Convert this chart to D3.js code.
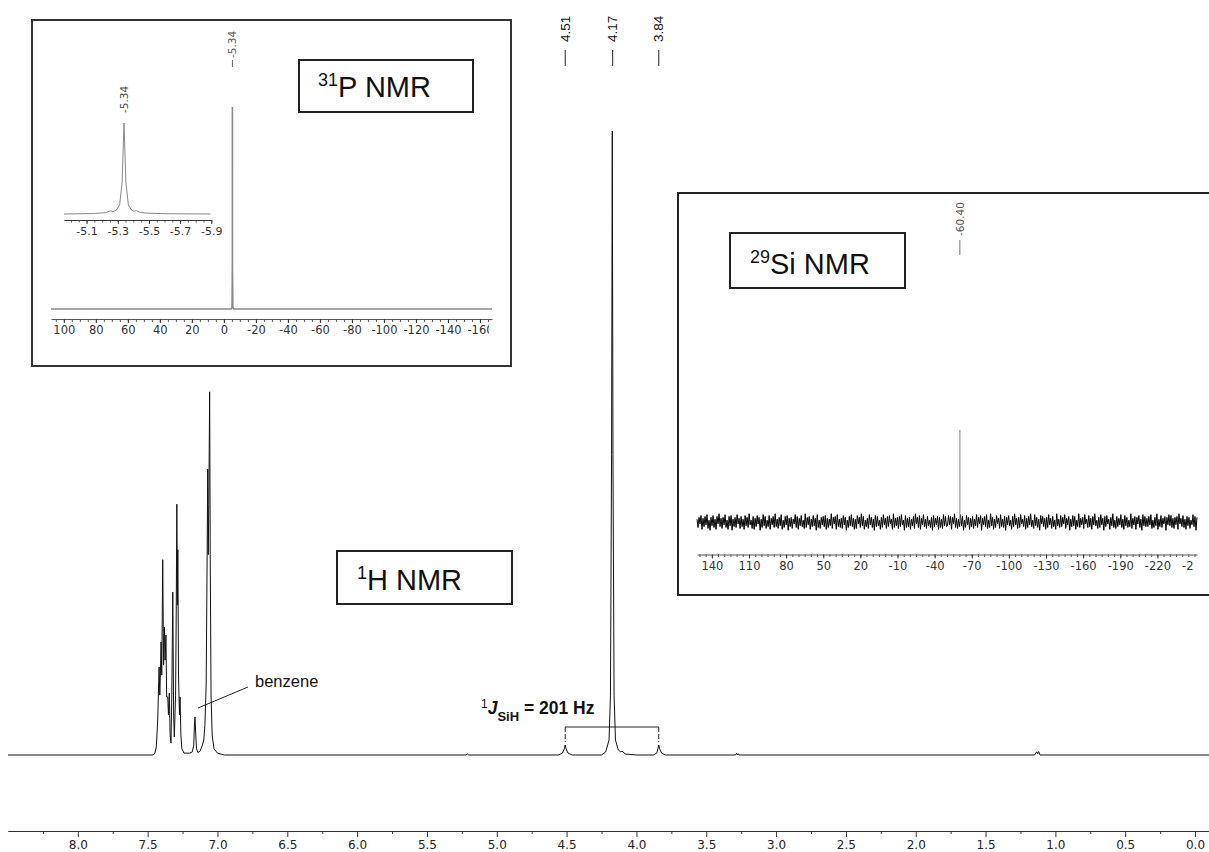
<!DOCTYPE html>
<html><head><meta charset="utf-8">
<script src="https://cdn.jsdelivr.net/npm/d3@7"></script>
<style>body{margin:0;background:#fff}svg{display:block}</style>
</head><body>
<svg id="c" width="1209" height="852"></svg>
<script>
// ---------------- DATA ----------------
// 1H spectrum: [ppm, relative intensity (tallest = 100)]
const hSpectrum = [
[8.50,0],[7.460,0],[7.448,0.3],[7.438,1.3],[7.428,5.6],[7.418,14.1],[7.413,9.6],[7.408,13.6],[7.404,18.1],[7.399,12.8],
[7.392,31.3],[7.386,14.4],[7.380,20.5],[7.375,15.2],[7.369,19.2],[7.364,9.3],[7.356,9.3],[7.351,6.4],[7.345,9.9],[7.339,3.2],
[7.333,1.9],[7.327,9.6],[7.320,26.1],[7.314,6.4],[7.309,2.9],[7.300,9.6],[7.295,24.0],[7.291,40.2],[7.287,24.0],[7.284,32.9],
[7.279,12.8],[7.272,6.4],[7.268,9.3],[7.262,3.2],[7.255,1.0],[7.240,0.3],[7.200,0.3],[7.180,0.5],[7.170,1.6],[7.165,4.8],
[7.161,6.1],[7.157,4.0],[7.150,1.0],[7.140,0.4],[7.125,0.6],[7.108,1.6],[7.098,2.4],[7.090,4.8],[7.081,11.2],[7.074,32.1],
[7.070,45.8],[7.066,32.1],[7.062,40.1],[7.056,58.2],[7.052,32.1],[7.046,9.6],[7.038,3.2],[7.025,1.0],[7.000,0.3],[6.950,0],
[5.220,0],[5.210,0.16],[5.200,0],
[4.560,0],[4.530,0.3],[4.516,1.0],[4.510,1.6],[4.504,1.0],[4.490,0.3],[4.460,0],
[4.250,0],[4.220,0.5],[4.196,2.4],[4.186,9.6],[4.178,48.1],[4.173,100],[4.168,48.1],[4.160,9.6],[4.150,2.4],[4.130,0.8],
[4.112,0.5],[4.104,0.6],[4.096,0.5],[4.080,0.16],[4.000,0],
[3.880,0],[3.855,0.3],[3.846,1.0],[3.840,1.6],[3.834,1.0],[3.820,0.3],[3.790,0],
[3.290,0],[3.282,0.3],[3.276,0],[3.270,0.2],[3.264,0],
[1.150,0],[1.134,0.5],[1.127,0.2],[1.120,0.56],[1.110,0],
[-0.10,0]
];
const hPeakLabels = [4.51, 4.17, 3.84];
const hTicks = [8.0,7.5,7.0,6.5,6.0,5.5,5.0,4.5,4.0,3.5,3.0,2.5,2.0,1.5,1.0,0.5,0.0];
const hMinorTicks = [8.25,7.75,7.25,6.75,6.25,5.75,5.25,4.75,4.25,3.75,3.25,2.75,2.25,1.75,1.25,0.75,0.25];
const jCoupling = {from: 4.51, to: 3.84, text: "201 Hz"};

// 31P spectrum
const pSpectrum = [[108,0],[-4.6,0],[-5.1,1],[-5.3,20],[-5.34,100],[-5.38,20],[-5.6,1],[-6.1,0],[-167.5,0]];
const pPeakLabel = -5.34;
const pTicks = [100,80,60,40,20,0,-20,-40,-60,-80,-100,-120,-140,-160];
// 31P expansion
const pZoomSpectrum = [[-4.955,0],[-5.15,0.5],[-5.22,1.5],[-5.255,3.5],[-5.268,2.5],[-5.29,4],[-5.312,10],[-5.328,35],[-5.34,100],
  [-5.352,35],[-5.368,10],[-5.39,4],[-5.405,3],[-5.42,3.8],[-5.44,2],[-5.48,1],[-5.6,0.3],[-5.895,0]];
const pZoomTicks = [-5.1,-5.3,-5.5,-5.7,-5.9];

// 29Si spectrum
const siPeak = [-60.40, 100];
const siTicks = [140,110,80,50,20,-10,-40,-70,-100,-130,-160,-190,-220,-250];
const siNoise = [
3,-6,5,-2,7,-8,4,-5,6,-3,8,-7,2,-9,5,-4,7,-6,3,-8,6,-2,9,-5,4,
-7,5,-3,8,-6,2,-8,6,-4,7,-9,3,-5,5,-6,8,-2,4,-7,6,-5,3,-8,7,-4,
5,-6,9,-3,2,-7,6,-8,4,-5,7,-2,5,-9,3,-6,8,-4,6,-7,2,-5,7,-8,4,
-3,6,-6,9,-5,3,-7,5,-4,8,-8,2,-6,6,-3,7,-9,4,-5,5,-7,3,-2,8,-6,
6,-8,4,-4,7,-5,2,-7,9,-6,5,-3,6,-8,3,-5,7,-4,4,-9,8,-6,2,-7,5,
-3,6,-5,7,-8,4,-6,3,-4,9,-7,5,-2,6,-8,8,-5,3,-6,4,-7,7,-3,5,-9,
2,-6,6,-4,8,-5,4,-8,3,-7,7,-2,5,-6,9,-4,6,-8,2,-5,4,-7,8,-3,5,
-6,3,-9,7,-5,6,-4,2,-8,5,-6,8,-3,4,-7,6,-5,7,-2,3,-8,9,-6,4,-4,
5,-7,6,-5,8,-3,2,-9,7,-6,4,-5,5,-8,3,-4,6,-7,9,-2,5,-6,7,-8,4,
-3,8,-5,3,-7,6,-4,2,-6,5,-9,7,-5,4,-3,6,-8,5,-6,3,-7,8,-4,6,-5,
-4,7,-3,6,-8,5,-2,9,-6,4,-7,3,-5,8,-4,6,-9,2,-6,7,-3,5,-8,4,-5,
6,-7,3,-4,8,-6,5,-2,7,-9,4,-3,6,-5,8,-7,2,-6,9,-4,5,-8,3,-6,7,
-2,4,-7,8,-5,3,-6,6,-9,5,-3,7,-4,2,-8,6,-5,9,-3,4,-7,5,-6,8,-2,
3,-5,7,-8,4,-6,6,-3,9,-5,2,-7,8,-4,5,-6,3,-9,7,-2,6,-5,4,-8,5,
-6,8,-3,4,-7,6,-5,2,-8,9,-4,3,-6,7,-5,5,-2,8,-7,4,-3,6,-9,3,-5,
7,-4,6,-8,2,-5,9,-6,4,-3,5,-7,8,-2,3,-6,7,-5,4,-8,6,-3,9,-4,2,
-7,5,-6,8,-3,4,-9,6,-5,7,-2,3,-8,5,-4,9,-6,2,-7,6,-5,4,-3,8,-6,
3,-8,7,-4,5,-6,2,-5,9,-7,4,-3,6,-8,5,-2,7,-6,3,-9,8,-4,6,-5,4,
-5,6,-3,8,-7,2,-6,5,-4,9,-8,3,-5,7,-6,4,-2,6,-9,5,-3,8,-4,7,-6,
4,-7,5,-3,6,-8,9,-2,4,-5,7,-6,3,-8,6,-4,5,-7,2,-3,8,-5,6,-9,5
];

// ---------------- DRAW ----------------
const svg = d3.select("#c");
const defs = svg.append("defs");
defs.append("clipPath").attr("id","clipP").append("rect").attr("x",30).attr("y",0).attr("width",459).attr("height",400);
defs.append("clipPath").attr("id","clipSi").append("rect").attr("x",680).attr("y",0).attr("width",514).attr("height",700);

function styleAxis(g, color, size){
  g.select(".domain").attr("stroke", color).attr("stroke-width",1);
  g.selectAll(".tick line").attr("stroke", color);
  g.selectAll(".tick text").attr("fill", color).attr("font-family","DejaVu Sans, Verdana, sans-serif").attr("font-size", size);
}
const fmtMinus = d => String(d);

// ----- Main 1H -----
const x = d3.scaleLinear().domain([8.5, -0.1]).range([8, 1209]);
const y = d3.scaleLinear().domain([0, 100]).range([755, 131]);
const line = d3.line().x(d => x(d[0])).y(d => y(d[1]));
svg.append("path").datum(hSpectrum).attr("d", line).attr("fill","none").attr("stroke","#111").attr("stroke-width",1);

const axY = 831;
const gMinor = svg.append("g").attr("transform",`translate(0,${axY})`)
  .call(d3.axisBottom(x).tickValues(hMinorTicks).tickSize(3).tickSizeOuter(0).tickFormat(""));
styleAxis(gMinor, "#333", 12);
const gMain = svg.append("g").attr("transform",`translate(0,${axY})`)
  .call(d3.axisBottom(x).tickValues(hTicks).tickSize(6).tickSizeOuter(0).tickFormat(d3.format(".1f")));
styleAxis(gMain, "#333", 12);
gMain.selectAll(".tick text").attr("fill","#222");

// peak labels on top
hPeakLabels.forEach(p => {
  svg.append("line").attr("x1", x(p)).attr("x2", x(p)).attr("y1", 50).attr("y2", 66).attr("stroke","#222").attr("stroke-width",1);
  svg.append("text").attr("transform",`translate(${x(p)+4.5},42) rotate(-90)`)
    .attr("font-family","Liberation Sans, Arial, sans-serif").attr("font-size",13.5).attr("fill","#111")
    .text(p.toFixed(2));
});

// J coupling bracket
const jy = 727;
svg.append("line").attr("x1", x(jCoupling.from)).attr("x2", x(jCoupling.to)).attr("y1", jy).attr("y2", jy).attr("stroke","#222");
[jCoupling.from, jCoupling.to].forEach(p => {
  svg.append("line").attr("x1", x(p)).attr("x2", x(p)).attr("y1", jy).attr("y2", 742).attr("stroke","#222").attr("stroke-dasharray","5,2");
});
const jt = svg.append("text").attr("x", 481).attr("y", 714)
  .attr("font-family","Liberation Sans, Arial, sans-serif").attr("font-weight","bold").attr("font-size",17.5).attr("fill","#111");
jt.append("tspan").attr("font-size",12).attr("dy",-6).attr("font-weight","normal").text("1");
jt.append("tspan").attr("font-style","italic").attr("dy",6).text("J");
jt.append("tspan").attr("font-size",13).attr("dy",7).text("SiH");
jt.append("tspan").attr("dy",-7).text(" = " + jCoupling.text);

// benzene annotation
svg.append("line").attr("x1",198).attr("y1",708).attr("x2",248).attr("y2",687).attr("stroke","#222");
svg.append("text").attr("x",255).attr("y",687).attr("font-family","Liberation Sans, Arial, sans-serif")
  .attr("font-size",16.5).attr("fill","#111").text("benzene");

// label boxes
function labelBox(bx, by, bw, bh, tx, ty, sup, main){
  svg.append("rect").attr("x",bx).attr("y",by).attr("width",bw).attr("height",bh)
    .attr("fill","#fff").attr("stroke","#222").attr("stroke-width",2);
  const t = svg.append("text").attr("x",tx).attr("y",ty).attr("font-family","Liberation Sans, Arial, sans-serif")
    .attr("font-size",29).attr("fill","#111");
  t.append("tspan").attr("font-size",18).attr("dy",-11).text(sup);
  t.append("tspan").attr("dy",11).text(main);
}
labelBox(337, 551, 175, 53, 357, 590, "1", "H NMR");

// ----- 31P inset -----
svg.append("rect").attr("x",32).attr("y",20).attr("width",479).attr("height",346).attr("fill","#fff").attr("stroke","#333").attr("stroke-width",2);
const px = d3.scaleLinear().domain([108, -167.5]).range([51, 492]);
const py = d3.scaleLinear().domain([0, 100]).range([309, 107]);
svg.append("path").datum(pSpectrum).attr("d", d3.line().x(d=>px(d[0])).y(d=>py(d[1])))
  .attr("fill","none").attr("stroke","#8a8a8a").attr("stroke-width",1.6);
const gpMinor = svg.append("g").attr("transform","translate(0,319)")
  .call(d3.axisBottom(px).tickValues(d3.range(105,-170,-5)).tickSize(3).tickSizeOuter(0).tickFormat(""));
styleAxis(gpMinor, "#555", 11);
const gp = svg.append("g").attr("transform","translate(0,319)").attr("clip-path","url(#clipP)")
  .call(d3.axisBottom(px).tickValues(pTicks).tickSize(4).tickSizeOuter(0).tickFormat(fmtMinus));
styleAxis(gp, "#333", 11.5);
gp.select(".domain").remove();
svg.append("line").attr("x1",px(pPeakLabel)).attr("x2",px(pPeakLabel)).attr("y1",60).attr("y2",67).attr("stroke","#666");
svg.append("text").attr("transform",`translate(${px(pPeakLabel)+4},58) rotate(-90)`)
  .attr("font-family","DejaVu Sans, Verdana, sans-serif").attr("font-size",10.5).attr("fill","#555").text(String(pPeakLabel));

// expansion
const zx = d3.scaleLinear().domain([-4.955, -5.895]).range([64, 210.5]);
const zy = d3.scaleLinear().domain([0, 100]).range([214, 123]);
svg.append("path").datum(pZoomSpectrum).attr("d", d3.line().x(d=>zx(d[0])).y(d=>zy(d[1])))
  .attr("fill","none").attr("stroke","#888").attr("stroke-width",1);
const gzMinor = svg.append("g").attr("transform","translate(0,220)")
  .call(d3.axisBottom(zx).tickValues(d3.range(-5.0,-5.91,-0.05)).tickSize(2.5).tickSizeOuter(0).tickFormat(""));
styleAxis(gzMinor, "#666", 10);
const gz = svg.append("g").attr("transform","translate(0,220)")
  .call(d3.axisBottom(zx).tickValues(pZoomTicks).tickSize(4).tickSizeOuter(0).tickFormat(d=>d.toFixed(1)));
styleAxis(gz, "#333", 11);
svg.append("text").attr("transform",`translate(${zx(pPeakLabel)+4},113) rotate(-90)`)
  .attr("font-family","DejaVu Sans, Verdana, sans-serif").attr("font-size",10.5).attr("fill","#444").text(String(pPeakLabel));

labelBox(299, 60, 174, 52, 318, 97, "31", "P NMR");

// ----- 29Si inset -----
svg.append("rect").attr("x",678).attr("y",193).attr("width",600).attr("height",402).attr("fill","#fff").attr("stroke","#222").attr("stroke-width",2);
const sx = d3.scaleLinear().domain([152, -252]).range([697, 1197]);
const sy = d3.scaleLinear().domain([0, 100]).range([522, 430]);
const ix = d3.scaleLinear().domain([0, siNoise.length-1]).range([sx(152), sx(-252)]);
svg.append("path").datum(siNoise).attr("d", d3.line().x((d,i)=>ix(i)).y(d=>sy(d)))
  .attr("fill","none").attr("stroke","#000").attr("stroke-width",1);
svg.append("line").attr("x1",sx(siPeak[0])).attr("x2",sx(siPeak[0])).attr("y1",sy(0)).attr("y2",sy(siPeak[1]))
  .attr("stroke","#999").attr("stroke-width",1.2);
const gsMinor = svg.append("g").attr("transform","translate(0,554.5)")
  .call(d3.axisBottom(sx).tickValues(d3.range(150,-255,-5)).tickSize(2.5).tickSizeOuter(0).tickFormat(""));
styleAxis(gsMinor, "#555", 11);
const gs = svg.append("g").attr("transform","translate(0,554.5)").attr("clip-path","url(#clipSi)")
  .call(d3.axisBottom(sx).tickValues(siTicks).tickSize(4).tickSizeOuter(0).tickFormat(fmtMinus));
styleAxis(gs, "#333", 11.5);
gs.select(".domain").remove();
svg.append("line").attr("x1",sx(siPeak[0])).attr("x2",sx(siPeak[0])).attr("y1",240).attr("y2",255).attr("stroke","#777");
svg.append("text").attr("transform",`translate(${sx(siPeak[0])+4},236) rotate(-90)`)
  .attr("font-family","DejaVu Sans, Verdana, sans-serif").attr("font-size",10.5).attr("fill","#555").text(siPeak[0].toFixed(2));

labelBox(730, 233, 175, 55, 750, 274, "29", "Si NMR");
</script>
</body></html>
